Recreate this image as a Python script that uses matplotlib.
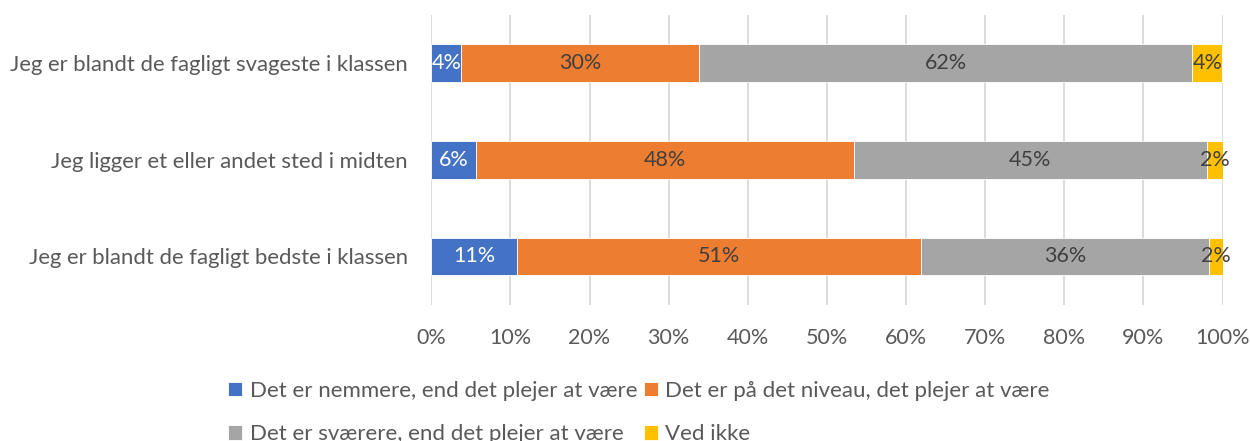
import matplotlib
matplotlib.use('Agg')
import matplotlib.pyplot as plt
import numpy as np
from matplotlib.ticker import PercentFormatter

plt.rcParams['font.family'] = ['Lato', 'DejaVu Sans']

# Data (bottom to top)
categories = ['Jeg er blandt de fagligt bedste i klassen',
              'Jeg ligger et eller andet sted i midten',
              'Jeg er blandt de fagligt svageste i klassen']
series_names = ['Det er nemmere, end det plejer at være',
                'Det er på det niveau, det plejer at være',
                'Det er sværere, end det plejer at være',
                'Ved ikke']
nemmere = [10.8, 5.7, 3.8]
samme = [51.1, 47.7, 30.0]
svaerere = [36.4, 44.6, 62.4]
ved_ikke = [1.7, 2.0, 3.8]
colors = ['#4472C4', '#ED7D31', '#A5A5A5', '#FFC000']
label_colors = ['white', '#404040', '#404040', '#404040']

fig = plt.figure(figsize=(12.5, 4.41), dpi=100)
ax = fig.add_axes([0.345, 0.309, 0.633, 0.658])

y = np.arange(len(categories))
left = np.zeros(len(categories))
for vals, name, col, lcol in zip([nemmere, samme, svaerere, ved_ikke], series_names, colors, label_colors):
    vals = np.array(vals)
    bars = ax.barh(y, vals, left=left, height=0.39, color=col, label=name,
                   edgecolor='white', linewidth=0.6, zorder=3)
    ax.bar_label(bars, labels=[f'{v:.0f}%' for v in vals], label_type='center',
                 color=lcol, fontsize=15.5)
    left += vals

ax.set_xlim(0, 100)
ax.set_ylim(-0.5, 2.5)
ax.set_xticks(np.arange(0, 101, 10))
ax.xaxis.set_major_formatter(PercentFormatter(decimals=0))
ax.set_yticks(y)
ax.set_yticklabels(categories)
ax.tick_params(axis='both', length=0, labelsize=15.5, colors='#595959')
ax.tick_params(axis='x', pad=17)
ax.tick_params(axis='y', pad=17, labelsize=15.9)
ax.grid(axis='x', color='#d9d9d9', linewidth=1.3, zorder=0)
for s in ax.spines.values():
    s.set_visible(False)

# legend filled row by row like the original (second row runs off the bottom there too)
handles, labels = ax.get_legend_handles_labels()
order = [0, 2, 1, 3]
fig.legend([handles[i] for i in order], [labels[i] for i in order],
           loc='upper left', bbox_to_anchor=(0.1824, 0.136), ncol=2, frameon=False,
           fontsize=16, labelcolor='#595959', handlelength=0.62, handleheight=0.62,
           handletextpad=0.35, columnspacing=0.3, labelspacing=1.05,
           borderpad=0, borderaxespad=0)

fig.savefig('out.png', dpi=100, facecolor='white')
